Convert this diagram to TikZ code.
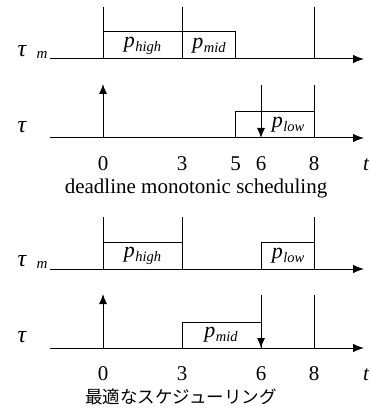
\documentclass[tikz,border=0pt]{standalone}
\usepackage{fontspec}
\setmainfont{Liberation Serif}
\newfontfamily\tnr{Liberation Serif}
\newfontfamily\jpfont{Noto Sans CJK JP}
\usetikzlibrary{arrows.meta}
\newcommand{\psubx}[1]{{\tnr\itshape p\kern0.5pt\raisebox{-0.35ex}{\fontsize{14.5}{14.5}\selectfont #1}}}
\begin{document}
\begin{tikzpicture}[x=1pt,y=-1pt,line width=1pt,
  axisline/.style={-{Latex[length=11pt,width=8.5pt]}},
  tipline/.style={-{Latex[length=10pt,width=8pt]}},
  lbl/.style={inner sep=0pt,font=\tnr\fontsize{22}{22}\selectfont},
  ticklbl/.style={inner sep=0pt,anchor=base,font=\tnr\fontsize{21}{21}\selectfont},
  captxt/.style={inner sep=0pt,anchor=base,font=\tnr\fontsize{21}{21}\selectfont},
  jcaptxt/.style={inner sep=0pt,font=\jpfont\fontsize{17.5}{17.5}\selectfont}]
\useasboundingbox (0,0) rectangle (370,414);
\foreach \o/\nm in {0/a,210/b}{
  \coordinate (\nm L1) at (50,59+\o);
  \coordinate (\nm R1) at (364,59+\o);
  \coordinate (\nm L2) at (50,138+\o);
  \coordinate (\nm R2) at (364,138+\o);
  \draw[axisline] (\nm L1) -- (\nm R1);
  \draw[axisline] (\nm L2) -- (\nm R2);
  \draw (103,7+\o) -- (103,59+\o);
  \draw (182,7+\o) -- (182,59+\o);
  \draw (314,7+\o) -- (314,59+\o);
  \coordinate (\nm up0) at (103,138+\o);
  \coordinate (\nm up1) at (103,84+\o);
  \draw[tipline] (\nm up0) -- (\nm up1);
  \coordinate (\nm dn0) at (261,85+\o);
  \coordinate (\nm dn1) at (261,138+\o);
  \draw[tipline] (\nm dn0) -- (\nm dn1);
  \draw (314,85+\o) -- (314,138+\o);
  \node[lbl,font=\tnr\fontsize{24}{24}\selectfont\itshape] (\nm tau1) at (22,51+\o) {τ};
  \node[inner sep=0pt,font=\tnr\fontsize{15}{15}\selectfont\itshape] (\nm m) at (42,55+\o) {m};
  \node[lbl,font=\tnr\fontsize{24}{24}\selectfont\itshape] (\nm tau2) at (22,127+\o) {τ};
}
% top panel boxes
\draw (103,32) rectangle (182,59);
\node[lbl] (ph1) at (142.5,46) {\psubx{high}};
\draw (182,32) rectangle (235.7,59);
\node[lbl] (pm1) at (209,46) {\psubx{mid}};
\draw (235.7,112) rectangle (314,138);
\node[lbl] (pl1) at (288,125) {\psubx{low}};
% top ticks
\node[ticklbl] (t0a) at (103,170) {0};
\node[ticklbl] (t3a) at (182,170) {3};
\node[ticklbl] (t5a) at (235.7,170) {5};
\node[ticklbl] (t6a) at (261,170) {6};
\node[ticklbl] (t8a) at (314,170) {8};
\node[ticklbl,font=\tnr\fontsize{21}{21}\selectfont\itshape] (tta) at (366,170) {t};
\node[captxt] (capa) at (196,193) {deadline monotonic scheduling};
% bottom panel boxes
\draw (103,242) rectangle (182,269);
\node[lbl] (ph2) at (142.5,256) {\psubx{high}};
\draw (261,242) rectangle (314,269);
\node[lbl] (pl2) at (288,256) {\psubx{low}};
\draw (182,322) rectangle (261,348);
\node[lbl] (pm2) at (221,335) {\psubx{mid}};
% bottom ticks
\node[ticklbl] (t0b) at (103,380) {0};
\node[ticklbl] (t3b) at (182,380) {3};
\node[ticklbl] (t6b) at (261,380) {6};
\node[ticklbl] (t8b) at (314,380) {8};
\node[ticklbl,font=\tnr\fontsize{21}{21}\selectfont\itshape] (ttb) at (366,380) {t};
\node[jcaptxt] (capb) at (181,397) {最適なスケジューリング};
\end{tikzpicture}
\end{document}
